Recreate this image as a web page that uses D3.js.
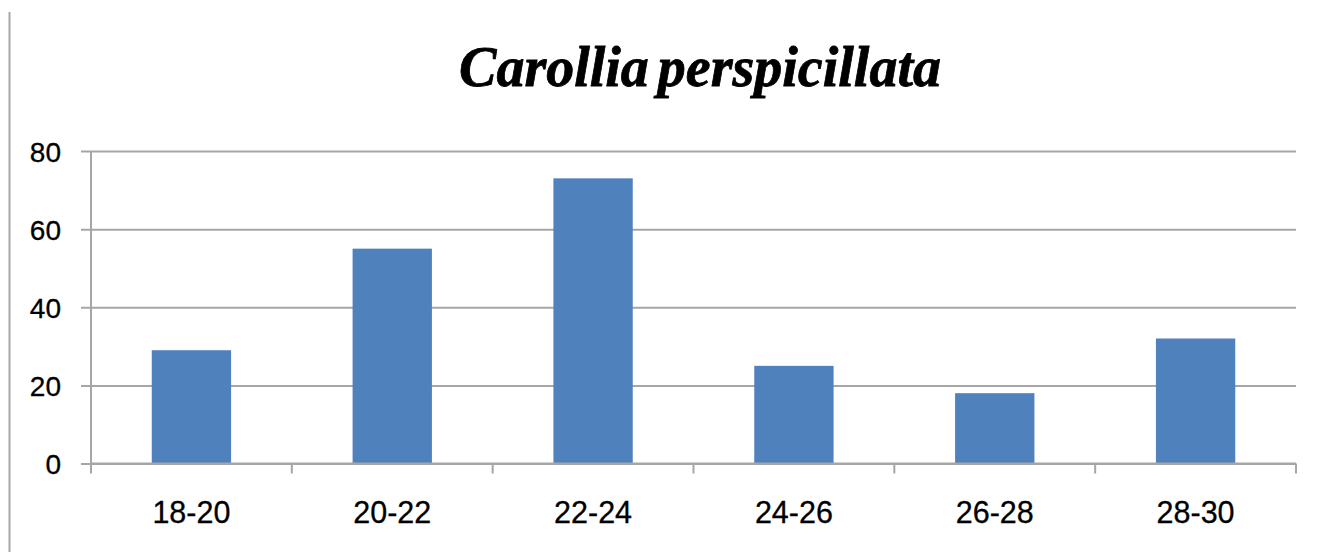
<!DOCTYPE html>
<html>
<head>
<meta charset="utf-8">
<script src="https://cdn.jsdelivr.net/npm/d3@7"></script>
<style>
  html, body { margin: 0; padding: 0; background: #fff; }
  svg { display: block; }
</style>
</head>
<body>
<svg id="chart" width="1325" height="552"></svg>
<script>
// Forearm length classes and counts for Carollia perspicillata
const categories = ["18-20", "20-22", "22-24", "24-26", "26-28", "28-30"];
const counts = [29, 55, 73, 25, 18, 32];
const yTicks = [0, 20, 40, 60, 80];
const title = "Carollia perspicillata";

const svg = d3.select("#chart");
const plot = { left: 91, right: 1296, top: 151, bottom: 463.5 };

const x = d3.scaleBand()
  .domain(categories)
  .range([plot.left, plot.right])
  .paddingInner(0.605)
  .paddingOuter(0.3025);

const y = d3.scaleLinear()
  .domain([0, 80])
  .range([plot.bottom, plot.top]);

const gridColor = "#a6a6a6";

// frame line at the left edge
svg.append("line")
  .attr("x1", 9.5).attr("x2", 9.5)
  .attr("y1", 12).attr("y2", 552)
  .attr("stroke", "#a8a8a8").attr("stroke-width", 2);

// title
svg.append("text")
  .attr("x", 700).attr("y", 86)
  .attr("text-anchor", "middle")
  .attr("font-family", "'Liberation Serif', 'Times New Roman', serif")
  .attr("font-weight", "bold")
  .attr("font-style", "italic")
  .attr("font-size", 56)
  .attr("word-spacing", -5)
  .attr("stroke", "#000")
  .attr("stroke-width", 0.8)
  .attr("fill", "#000")
  .text(title);

// horizontal gridlines with small tick stubs to the left
const yAxis = d3.axisLeft(y)
  .tickValues(yTicks)
  .tickSize(-(plot.right - plot.left))
  .tickPadding(0)
  .tickFormat(d3.format("d"));

const gy = svg.append("g")
  .attr("transform", `translate(${plot.left},0)`)
  .call(yAxis);
gy.select(".domain").remove();
gy.selectAll(".tick line")
  .attr("x1", -10)
  .attr("x2", plot.right - plot.left)
  .attr("stroke", gridColor)
  .attr("stroke-width", 2);
gy.selectAll(".tick text")
  .attr("x", -30)
  .attr("dy", "0.36em")
  .attr("font-family", "'Liberation Sans', Arial, sans-serif")
  .attr("font-size", 28)
  .attr("stroke", "#000")
  .attr("stroke-width", 0.3)
  .attr("fill", "#000");

// vertical value axis line
svg.append("line")
  .attr("x1", plot.left).attr("x2", plot.left)
  .attr("y1", plot.top).attr("y2", plot.bottom)
  .attr("stroke", gridColor).attr("stroke-width", 2);

// bars
svg.append("g")
  .selectAll("rect")
  .data(categories.map((c, i) => ({ c, v: counts[i] })))
  .join("rect")
  .attr("x", d => x(d.c))
  .attr("y", d => y(d.v))
  .attr("width", x.bandwidth())
  .attr("height", d => y(0) - y(d.v))
  .attr("fill", "#4f81bd");

// category axis with ticks at band boundaries
const boundaries = categories.map(c => x(c) - x.step() * x.paddingOuter())
  .concat([plot.right]);
svg.append("line")
  .attr("x1", plot.left).attr("x2", plot.right)
  .attr("y1", plot.bottom).attr("y2", plot.bottom)
  .attr("stroke", gridColor).attr("stroke-width", 2);
svg.append("g")
  .selectAll("line")
  .data(boundaries)
  .join("line")
  .attr("x1", d => d).attr("x2", d => d)
  .attr("y1", plot.bottom).attr("y2", plot.bottom + 10)
  .attr("stroke", gridColor).attr("stroke-width", 2);

svg.append("g")
  .selectAll("text")
  .data(categories)
  .join("text")
  .attr("x", d => x(d) + x.bandwidth() / 2)
  .attr("y", 523)
  .attr("text-anchor", "middle")
  .attr("font-family", "'Liberation Sans', Arial, sans-serif")
  .attr("font-size", 30.5)
  .attr("stroke", "#000")
  .attr("stroke-width", 0.3)
  .attr("fill", "#000")
  .text(d => d);
</script>
</body>
</html>
